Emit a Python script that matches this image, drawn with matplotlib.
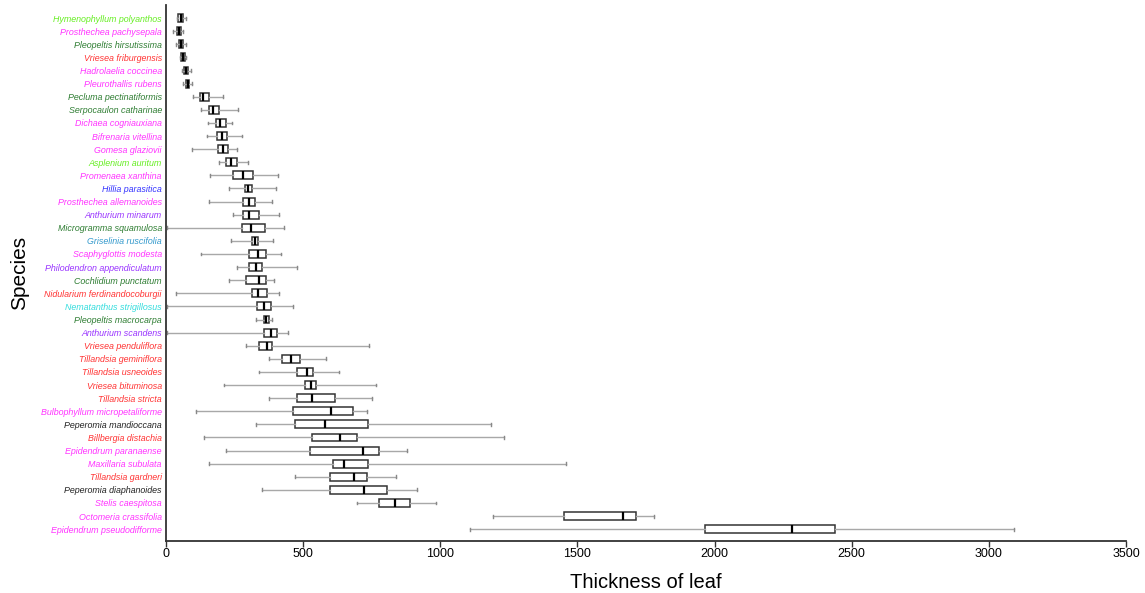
import matplotlib
matplotlib.use("Agg")
import matplotlib.pyplot as plt

species = [
    "Hymenophyllum polyanthos", "Prosthechea pachysepala", "Pleopeltis hirsutissima",
    "Vriesea friburgensis", "Hadrolaelia coccinea", "Pleurothallis rubens",
    "Pecluma pectinatiformis", "Serpocaulon catharinae", "Dichaea cogniauxiana",
    "Bifrenaria vitellina", "Gomesa glaziovii", "Asplenium auritum",
    "Promenaea xanthina", "Hillia parasitica", "Prosthechea allemanoides",
    "Anthurium minarum", "Microgramma squamulosa", "Griselinia ruscifolia",
    "Scaphyglottis modesta", "Philodendron appendiculatum", "Cochlidium punctatum",
    "Nidularium ferdinandocoburgii", "Nematanthus strigillosus", "Pleopeltis macrocarpa",
    "Anthurium scandens", "Vriesea penduliflora", "Tillandsia geminiflora",
    "Tillandsia usneoides", "Vriesea bituminosa", "Tillandsia stricta",
    "Bulbophyllum micropetaliforme", "Peperomia mandioccana", "Billbergia distachia",
    "Epidendrum paranaense", "Maxillaria subulata", "Tillandsia gardneri",
    "Peperomia diaphanoides", "Stelis caespitosa", "Octomeria crassifolia",
    "Epidendrum pseudodifforme",
]

label_colors = [
    "#66ee22", "#ff33ff", "#2e7d32", "#ff3333", "#ff33ff", "#ff33ff",
    "#2e7d32", "#2e7d32", "#ff33ff", "#ff33ff", "#ff33ff", "#66ee22",
    "#ff33ff", "#3333ff", "#ff33ff", "#9933ff", "#2e7d32", "#3399cc",
    "#ff33ff", "#9933ff", "#2e7d32", "#ff3333", "#33dddd", "#2e7d32",
    "#9933ff", "#ff3333", "#ff3333", "#ff3333", "#ff3333", "#ff3333",
    "#ff33ff", "#222222", "#ff3333", "#ff33ff", "#ff33ff", "#ff3333",
    "#222222", "#ff33ff", "#ff33ff", "#ff33ff",
]

whisker_low = [39, 24, 36, 51, 59, 63, 100, 129, 152, 148, 95, 193, 160, 231, 158, 244,
               5, 238, 129, 259, 231, 35, 2, 327, 2, 291, 374, 340, 212, 375, 108, 328,
               139, 217, 155, 471, 351, 697, 1191, 1109]
q1 = [45, 41, 47, 56, 66, 72, 124, 158, 181, 187, 190, 217, 244, 289, 282, 282,
      278, 312, 303, 303, 290, 313, 332, 356, 357, 340, 424, 478, 505, 478, 464, 471,
      533, 526, 609, 597, 598, 777, 1452, 1965]
median = [53, 47, 55, 62, 73, 79, 136, 172, 198, 203, 209, 237, 282, 300, 302, 304,
          311, 324, 334, 328, 340, 336, 359, 366, 383, 367, 455, 513, 527, 534, 603, 579,
          635, 717, 649, 685, 723, 835, 1665, 2281]
q3 = [61, 56, 63, 68, 80, 85, 155, 193, 217, 221, 227, 259, 318, 314, 323, 340,
      362, 335, 364, 350, 365, 369, 384, 376, 405, 387, 488, 535, 546, 617, 681, 735,
      697, 775, 738, 731, 804, 889, 1713, 2439]
whisker_high = [73, 63, 73, 73, 90, 96, 206, 262, 241, 277, 260, 300, 408, 400, 388, 413,
                431, 391, 420, 476, 394, 411, 464, 388, 444, 740, 583, 629, 767, 752, 733, 1186,
                1232, 880, 1459, 839, 916, 984, 1780, 3092]

x_ticks = [0, 500, 1000, 1500, 2000, 2500, 3000, 3500]

stats = []
for i in range(len(species)):
    stats.append(dict(whislo=whisker_low[i], q1=q1[i], med=median[i], q3=q3[i],
                      whishi=whisker_high[i], fliers=[]))

fig = plt.figure(figsize=(11.45, 5.93), dpi=100)
ax = fig.add_axes([166 / 1145, 1 - 541 / 593, (1126 - 166) / 1145, (541 - 5) / 593])

positions = list(range(1, len(species) + 1))
ax.bxp(stats, positions=positions, vert=False, widths=0.6, showfliers=False,
       patch_artist=True,
       boxprops=dict(facecolor="white", edgecolor="#333333", linewidth=1.1),
       medianprops=dict(color="black", linewidth=1.6),
       whiskerprops=dict(color="#a8a8a8", linewidth=1.0),
       capprops=dict(color="#888888", linewidth=1.0),
       capwidths=0.22)

ax.set_ylim(40.9, 0.0)
ax.set_xlim(0, 3500)
ax.set_xticks(x_ticks)
ax.set_xticklabels([str(t) for t in x_ticks],
                   fontdict=dict(family=["Liberation Sans Narrow", "Liberation Sans"], size=9))
ax.set_yticks(positions)
ax.set_yticklabels(species, fontstyle="italic", family="Liberation Sans", fontsize=6.4)
for lbl, c in zip(ax.get_yticklabels(), label_colors):
    lbl.set_color(c)

ax.tick_params(axis="y", length=0, pad=3)
ax.tick_params(axis="x", length=4, width=1, color="#333333", pad=1)
for s in ["top", "right"]:
    ax.spines[s].set_visible(False)
for s in ["left", "bottom"]:
    ax.spines[s].set_linewidth(1.3)
    ax.spines[s].set_color("#333333")

ax.set_xlabel("Thickness of leaf", family="Liberation Sans", fontsize=14.5)
ax.xaxis.set_label_coords(0.5, -(582 - 541) / 536)
ax.xaxis.label.set_va("center")
ax.set_ylabel("Species", family="Liberation Sans", fontsize=15)
ax.yaxis.set_label_coords(-(166 - 20) / 960, 0.5)
ax.yaxis.label.set_va("center")

fig.savefig("out.png", dpi=100)
